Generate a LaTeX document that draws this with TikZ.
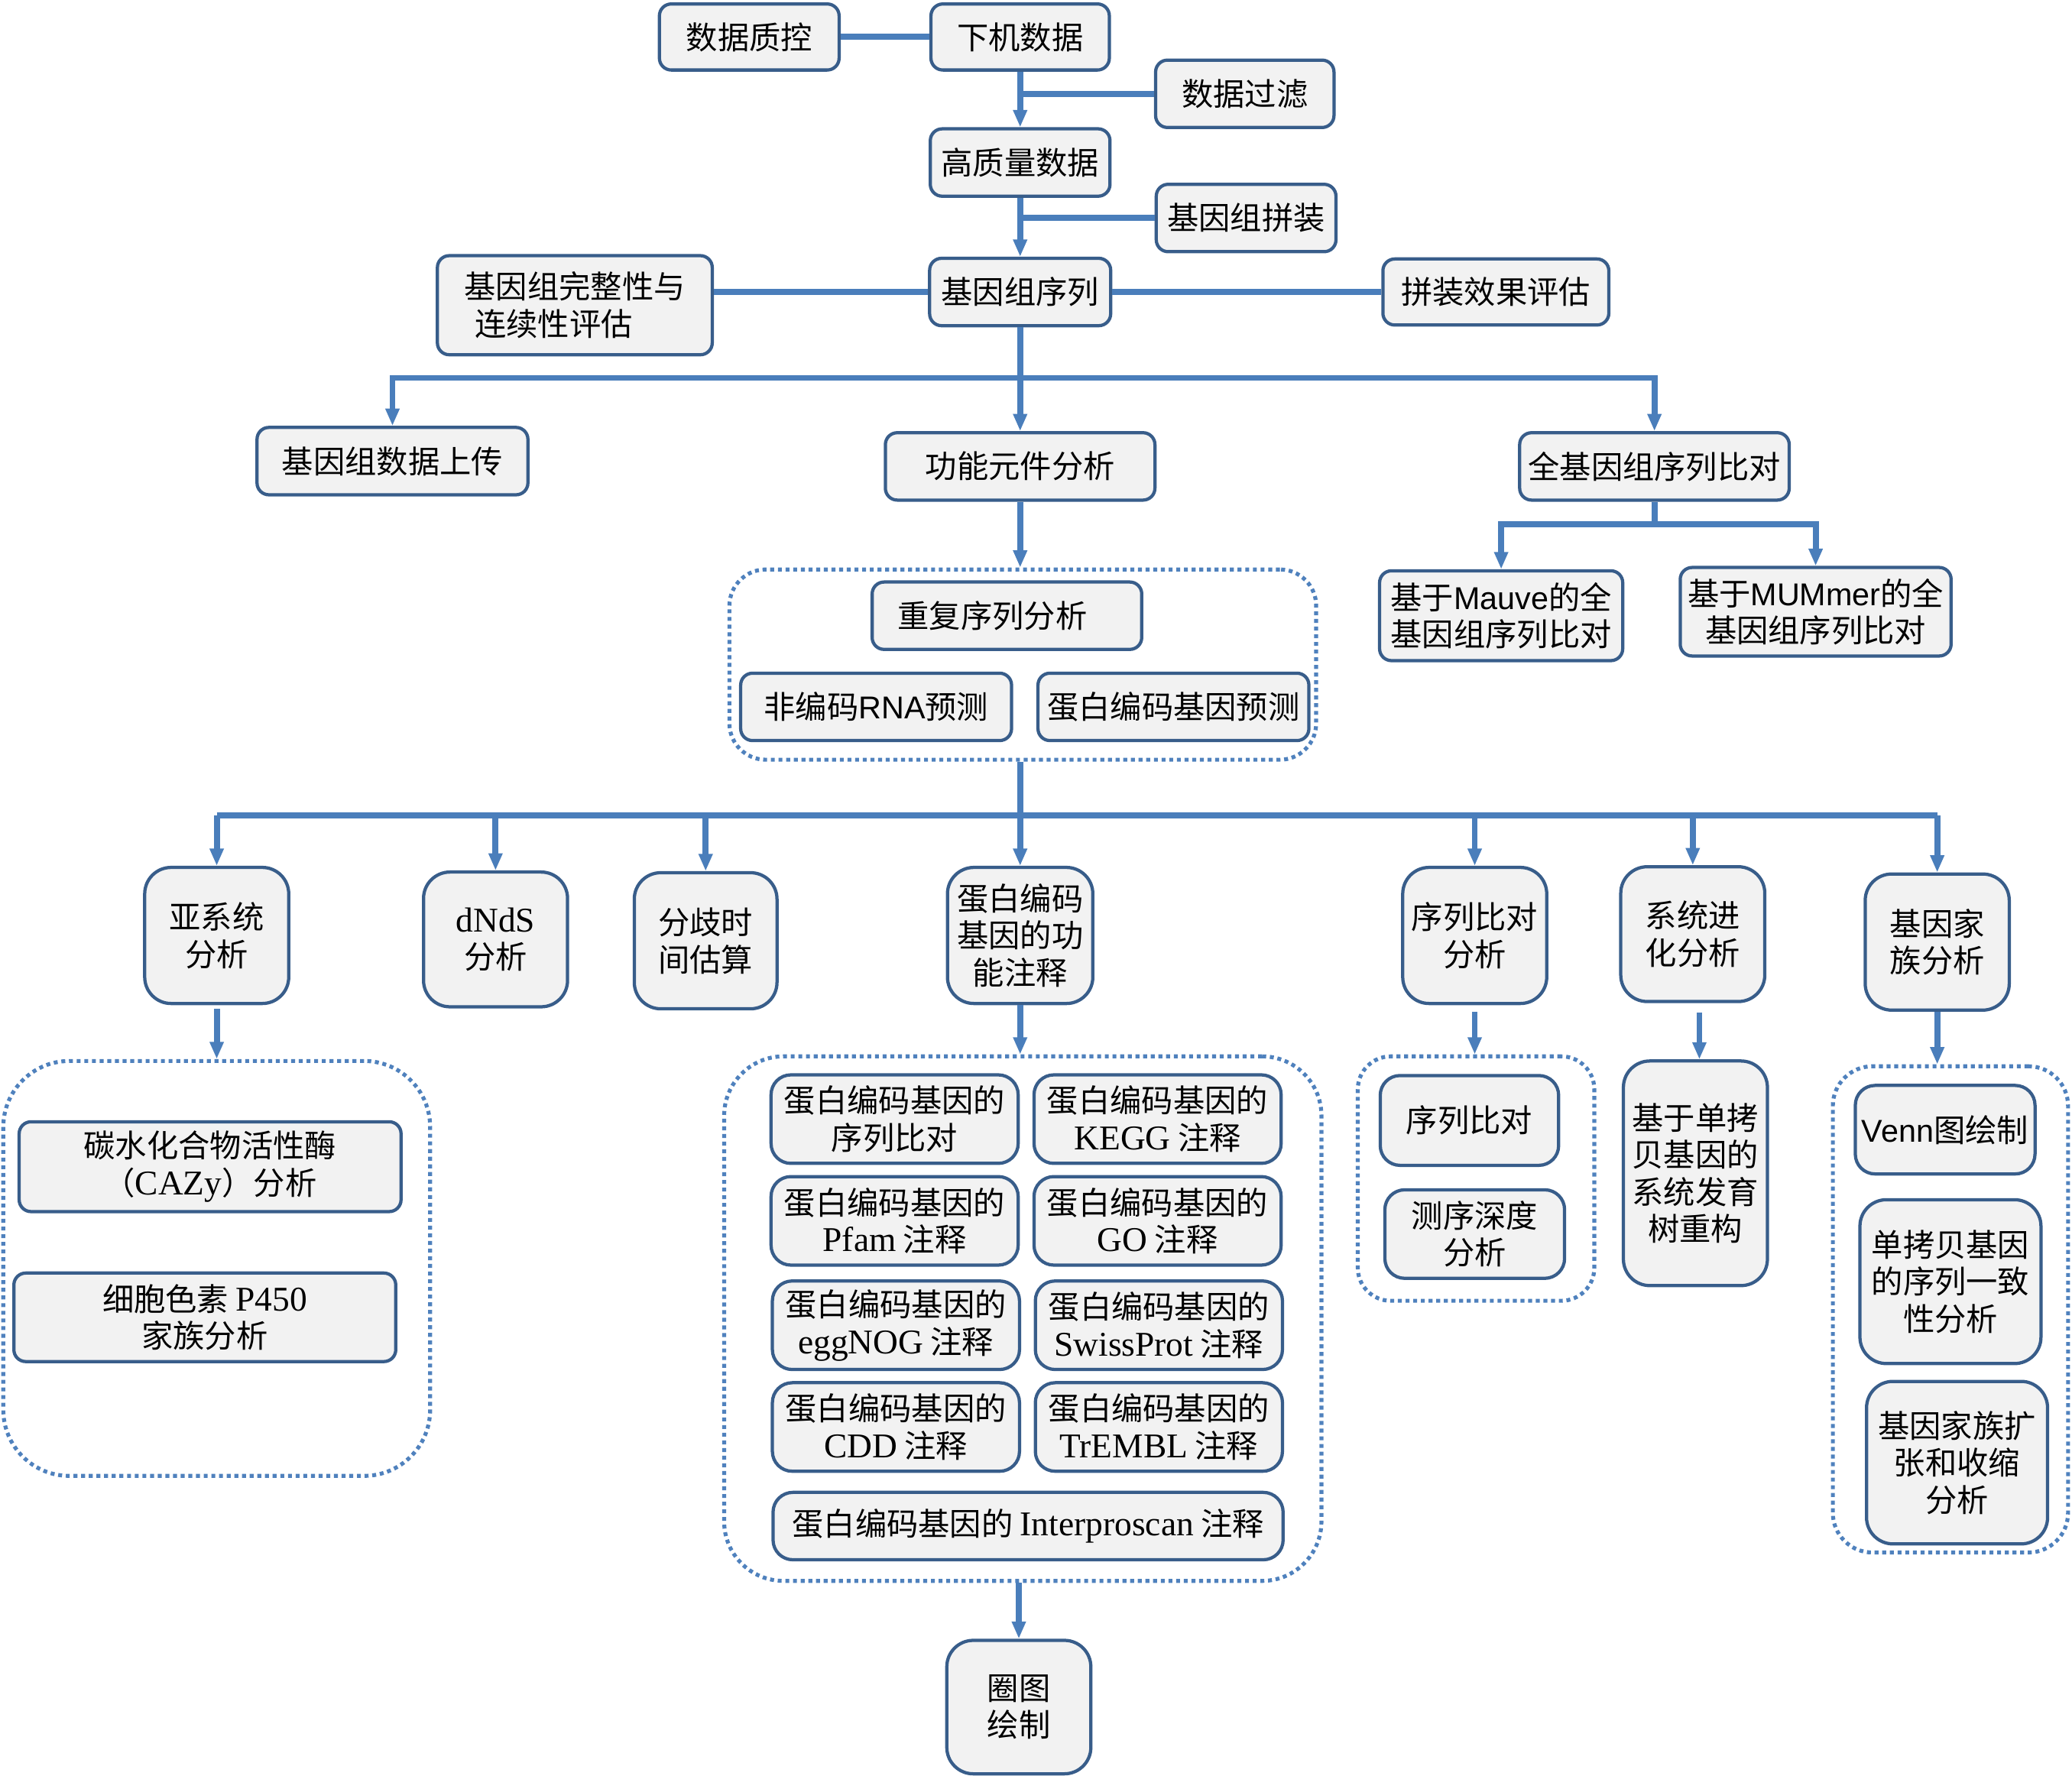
\documentclass[tikz,border=0pt]{standalone}
\usepackage{fontspec}
\setmainfont[Scale=1.1]{Liberation Serif}
\newfontfamily\cjk{Noto Sans CJK SC}
\newfontfamily\arialf{Liberation Sans}
\usetikzlibrary{arrows.meta}
\definecolor{linec}{RGB}{74,126,187}
\definecolor{boxd}{RGB}{56,93,138}
\definecolor{boxf}{RGB}{242,242,242}
\definecolor{dotc}{RGB}{79,129,189}
\newcommand{\tm}[1]{{\rmfamily #1}}
\newcommand{\ar}[1]{{\arialf #1}}
\begin{document}
\begin{tikzpicture}[x=0.02cm,y=-0.02cm,
  box/.style={draw=boxd, fill=boxf, line width=1.4pt, rounded corners=0.18cm, inner sep=0pt, align=center,
              font=\cjk\fontsize{13.6pt}{16pt}\selectfont},
  tall/.style={box, rounded corners=0.4cm},
  cell/.style={box, rounded corners=0.3cm},
  wh/.style 2 args={minimum width=#1*0.02cm, minimum height=#2*0.02cm},
  conn/.style={draw=linec, line width=2.6pt},
  arr/.style={conn, -{Triangle[length=0.26cm,width=0.2cm]}},
  grp/.style={draw=dotc, line width=1.7pt, dash pattern=on 1.7pt off 1.6pt, inner sep=0pt, rounded corners=0.55cm},
]
\useasboundingbox (0,0) rectangle (1568,1344);

% ---------- top ----------
\node[box,wh={136}{50}] (qc) at (567,28) {数据质控};
\node[box,wh={135}{50}] (raw) at (772,28) {下机数据};
\node[box,wh={135}{51}] (filt) at (942,71) {数据过滤};
\node[box,wh={136}{51}] (hq) at (772,123) {高质量数据};
\node[box,wh={136}{51}] (asm) at (943,165) {基因组拼装};
\node[box,wh={137}{51}] (gs) at (772,221) {基因组序列};
\node[box,wh={208}{75}, align=left] (comp) at (435,231) {基因组完整性与\\\hspace*{0.16cm}连续性评估};
\node[box,wh={171}{50}] (eval) at (1132,221) {拼装效果评估};
\node[box,wh={205}{51}] (up) at (297,349) {基因组数据上传};
\node[box,wh={204}{51}] (func) at (772,353) {功能元件分析};
\node[box,wh={204}{51}] (wga) at (1252,353) {全基因组序列比对};
\node[box,wh={184}{68}] (mauve) at (1136,466) {基于\ar{Mauve}的全\\基因组序列比对};
\node[box,wh={205}{67}] (mum) at (1374,463) {基于\ar{MUMmer}的全\\基因组序列比对};

\draw[conn] (qc.east) -- (raw.west);
\draw[arr] (raw.south) -- (hq.north);
\draw[conn] (filt.west) -- (filt.west -| raw.south);
\draw[arr] (hq.south) -- (gs.north);
\draw[conn] (asm.west) -- (asm.west -| hq.south);
\draw[conn] (gs.west) -- (gs.west -| comp.east);
\draw[conn] (gs.east) -- (eval.west);
\coordinate (b1) at (772,286);
\draw[arr] (gs.south) -- (func.north);
\draw[arr] (b1) -| (up.north);
\draw[arr] (b1) -| (wga.north);
\coordinate (b2) at (1252,397);
\draw[conn] (wga.south) -- (b2);
\draw[arr] (b2) -| (mauve.north);
\draw[arr] (b2) -| (mum.north);

% ---------- function elements group ----------
\node[grp,wh={444}{144}] (g1) at (774,503) {};
\node[box,wh={204}{51}] (rep) at (762,466) {重复序列分析\hspace{0.44cm}};
\node[box,wh={205}{51}] (ncrna) at (663,535) {非编码\ar{RNA}预测};
\node[box,wh={205}{51}] (pcg) at (888,535) {蛋白编码基因预测};
\draw[arr] (func.south) -- (func.south |- g1.north);

% ---------- second level ----------
\node[tall,wh={109}{103}] (sub) at (164,708) {亚系统\\分析};
\node[tall,wh={109}{102}] (dnds) at (375,711) {\tm{dNdS}\\分析};
\node[tall,wh={108}{103}] (div) at (534,712) {分歧时\\间估算};
\node[tall,wh={110}{103}] (ann) at (772,708) {蛋白编码\\基因的功\\能注释};
\node[tall,wh={109}{103}] (sa) at (1116,708) {序列比对\\分析};
\node[tall,wh={109}{102}] (phy) at (1281,707) {系统进\\化分析};
\node[tall,wh={109}{103}] (gf) at (1466,713) {基因家\\族分析};

\coordinate (b0) at (772,617);
\draw[conn] (func.south |- g1.south) -- (b0);
\draw[conn] (sub.north |- b0) -- (gf.north |- b0);
\foreach \n in {sub,dnds,div,ann,sa,phy,gf}
  \draw[arr] (\n.north |- b0) -- (\n.north);

% ---------- subsystem group ----------
\node[grp,wh={323}{314}, rounded corners=1cm] (g2) at (164,960) {};
\node[box,wh={289}{68}] (cazy) at (159,883) {碳水化合物活性酶\\（\tm{CAZy}）分析};
\node[box,wh={289}{67}] (p450) at (155,997) {细胞色素 \tm{P450}\\家族分析};
\draw[arr, shorten <=0.06cm] (sub.south) -- (sub.south |- g2.north);

% ---------- annotation group ----------
\node[grp,wh={452}{397}, rounded corners=0.9cm] (g3) at (774,998) {};
\node[cell,wh={187}{67}] (a1) at (677,847) {蛋白编码基因的\\序列比对};
\node[cell,wh={187}{67}] (a2) at (876,847) {蛋白编码基因的\\\tm{KEGG} 注释};
\node[cell,wh={187}{67}] (a3) at (677,924) {蛋白编码基因的\\\tm{Pfam} 注释};
\node[cell,wh={187}{67}] (a4) at (876,924) {蛋白编码基因的\\\tm{GO} 注释};
\node[cell,wh={187}{67}] (a5) at (678,1003) {蛋白编码基因的\\\tm{eggNOG} 注释};
\node[cell,wh={187}{67}] (a6) at (877,1003) {蛋白编码基因的\\\tm{SwissProt} 注释};
\node[cell,wh={187}{67}] (a7) at (678,1080) {蛋白编码基因的\\\tm{CDD} 注释};
\node[cell,wh={187}{67}] (a8) at (877,1080) {蛋白编码基因的\\\tm{TrEMBL} 注释};
\node[cell,wh={386}{51}] (a9) at (778,1155) {蛋白编码基因的 \tm{Interproscan} 注释};
\draw[arr] (ann.south) -- (ann.south |- g3.north);

\node[tall,wh={109}{101}] (circ) at (771,1292) {圈图\\绘制};
\draw[arr] (g3.south -| circ.north) -- (circ.north);

% ---------- sequence alignment group ----------
\node[grp,wh={179}{185}, rounded corners=0.5cm] (g4) at (1117,892) {};
\node[cell,wh={135}{68}] (sa1) at (1112,848) {序列比对};
\node[cell,wh={136}{67}] (sa2) at (1116,934) {测序深度\\分析};
\draw[arr, shorten <=0.1cm] (sa.south) -- (sa.south |- g4.north);

% ---------- phylogeny ----------
\node[tall,wh={109}{170}] (phy1) at (1283,888) {基于单拷\\贝基因的\\系统发育\\树重构};
\draw[arr, shorten <=0.14cm] (phy.south -| phy1.north) ++(3,0) coordinate (pt) (phy.south -| pt) -- (pt |- phy1.north);

% ---------- gene family group ----------
\node[grp,wh={178}{368}, rounded corners=0.6cm] (g5) at (1476,991) {};
\node[cell,wh={136}{67}] (gf1) at (1472,855) {\ar{Venn}图绘制};
\node[tall,wh={137}{124}] (gf2) at (1476,970) {单拷贝基因\\的序列一致\\性分析};
\node[tall,wh={137}{123}] (gf3) at (1481,1107) {基因家族扩\\张和收缩\\分析};
\draw[arr] (gf.south) -- (gf.south |- g5.north);
\end{tikzpicture}
\end{document}
